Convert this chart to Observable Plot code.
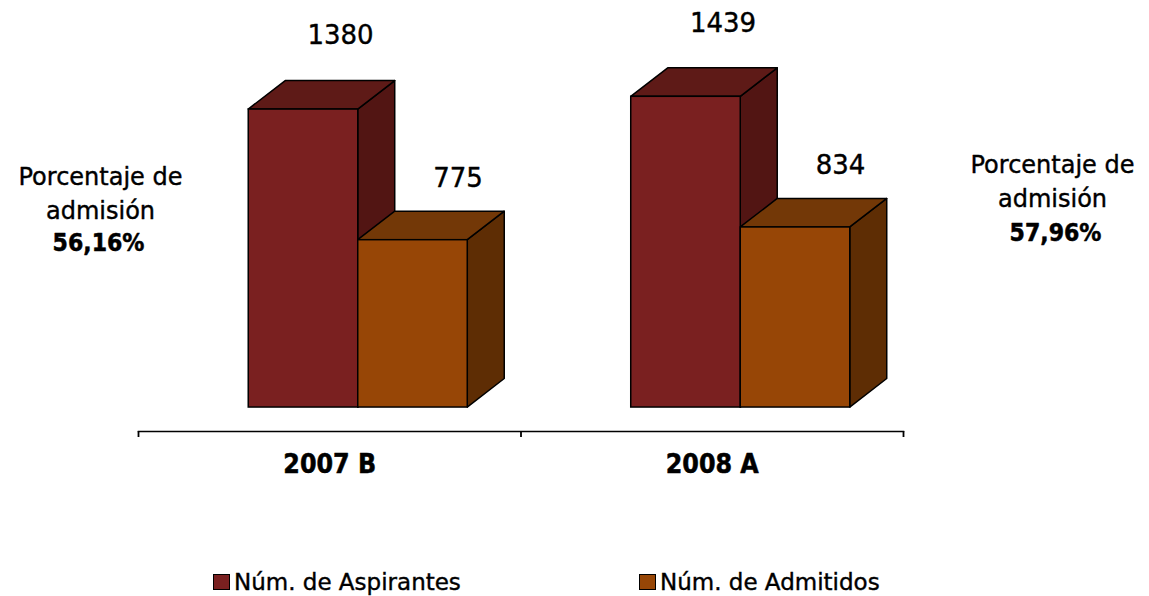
<!DOCTYPE html>
<html>
<head>
<meta charset="utf-8">
<script src="https://cdn.jsdelivr.net/npm/d3@7"></script>
<script src="https://cdn.jsdelivr.net/npm/@observablehq/plot@0.6"></script>
<style>
  html, body { margin: 0; padding: 0; background: #fff; }
  #wrap { position: relative; width: 1149px; height: 596px; overflow: hidden; }
  .leg { position: absolute; top: 569px; display: flex; align-items: center;
         font-family: "DejaVu Sans", sans-serif; font-size: 23px; color: #000;
         -webkit-text-stroke: 0.4px #000; }
  .sw { width: 15px; height: 14px; border: 1.5px solid #000; margin-right: 4px; }
</style>
</head>
<body>
<div id="wrap"></div>
<script>
// ---- data ----
const categories = ["2007 B", "2008 A"];
const aspirantes = [1380, 1439];
const admitidos = [775, 834];
const porcentajes = ["56,16%", "57,96%"];
const seriesNames = ["Núm. de Aspirantes", "Núm. de Admitidos"];

// ---- styling / geometry constants ----
const colors = [
  {front: "#7a2020", top: "#5e1a17", side: "#521513"},
  {front: "#974606", top: "#733807", side: "#5e2d04"}
];
const barW = 0.2863;     // bar width in category units
const shift = 0.0745;    // group offset from category centre
const dX = 0.0967;       // depth in x (category units)
const dY = 132;          // depth in y (value units)
const boldFont = "'DejaVu Sans Condensed', 'DejaVu Sans', sans-serif";
const regFont = "'DejaVu Sans', sans-serif";

const seriesValues = [aspirantes, admitidos];
const bars = [];
seriesValues.forEach((vals, s) => {
  vals.forEach((v, i) => {
    const center = i + 0.5 + shift;
    const L = center + (s - 1) * barW;
    const R = L + barW;
    bars.push({s, i, v, L, R, id: `${s}-${i}`});
  });
});

function sidePts(b) {
  return [
    {id: b.id, x: b.R, y1: 0, y2: b.v},
    {id: b.id, x: b.R + dX, y1: dY, y2: b.v + dY}
  ];
}
function topPts(b) {
  return [
    {id: b.id, x: b.L, y1: b.v, y2: b.v},
    {id: b.id, x: b.L + dX, y1: b.v, y2: b.v + dY},
    {id: b.id, x: b.R, y1: b.v, y2: b.v + dY},
    {id: b.id, x: b.R + dX, y1: b.v + dY, y2: b.v + dY}
  ];
}

const marks = [];
const sw = 1.5;
// sides
[0, 1].forEach(s => {
  marks.push(Plot.area(bars.filter(b => b.s === s).flatMap(sidePts),
    {x1: "x", y1: "y1", y2: "y2", z: "id", fill: colors[s].side, stroke: "#000", strokeWidth: sw, strokeLinejoin: "round"}));
});
// tops
[0, 1].forEach(s => {
  marks.push(Plot.area(bars.filter(b => b.s === s).flatMap(topPts),
    {x1: "x", y1: "y1", y2: "y2", z: "id", fill: colors[s].top, stroke: "#000", strokeWidth: sw, strokeLinejoin: "round"}));
});
// fronts
[0, 1].forEach(s => {
  marks.push(Plot.rect(bars.filter(b => b.s === s),
    {x1: "L", x2: "R", y1: 0, y2: "v", fill: colors[s].front, stroke: "#000", strokeWidth: sw}));
});
// value labels
const textThick = {stroke: "#000", strokeWidth: 0.4};
marks.push(Plot.text(bars.filter(b => b.s === 0), {
  x: b => (b.L + b.R) / 2 + dX, y: b => b.v + dY, text: b => String(b.v),
  dy: -45, fontSize: 26, fontFamily: regFont, fill: "#000", ...textThick
}));
marks.push(Plot.text(bars.filter(b => b.s === 1), {
  x: b => (b.L + b.R) / 2 + dX, y: b => b.v + dY, text: b => String(b.v),
  dx: 8, dy: -33, fontSize: 26, fontFamily: regFont, fill: "#000", ...textThick
}));
// axis
marks.push(Plot.frame({anchor: "bottom", stroke: "#000", strokeWidth: 1.5}));
marks.push(Plot.axisX({ticks: d3.range(categories.length + 1), tickSize: 6, tickFormat: () => "", strokeWidth: 1.8, label: null}));
marks.push(Plot.text(categories, {
  x: (d, i) => i + 0.5, text: d => d, frameAnchor: "bottom", dy: 41,
  fontSize: 26.5, fontWeight: "bold", fontFamily: boldFont, fill: "#000", stroke: "#000", strokeWidth: 0.5
}));
// side annotations
marks.push(Plot.text(["Porcentaje de\nadmisión"], {
  frameAnchor: "left", text: d => d, dx: -38, dy: -25, lineHeight: 1.4,
  fontSize: 24, fontFamily: regFont, fill: "#000", textAnchor: "middle", ...textThick
}));
marks.push(Plot.text([porcentajes[0]], {
  frameAnchor: "left", text: d => d, dx: -40, dy: 27,
  fontSize: 24.5, fontWeight: "bold", fontFamily: boldFont, fill: "#000", textAnchor: "middle", stroke: "#000", strokeWidth: 0.5
}));
marks.push(Plot.text(["Porcentaje de\nadmisión"], {
  frameAnchor: "right", text: d => d, dx: 149, dy: -37, lineHeight: 1.4,
  fontSize: 24, fontFamily: regFont, fill: "#000", textAnchor: "middle", ...textThick
}));
marks.push(Plot.text([porcentajes[1]], {
  frameAnchor: "right", text: d => d, dx: 152, dy: 17,
  fontSize: 24.5, fontWeight: "bold", fontFamily: boldFont, fill: "#000", textAnchor: "middle", stroke: "#000", strokeWidth: 0.5
}));

const chart = Plot.plot({
  width: 1149,
  height: 560,
  marginLeft: 138,
  marginRight: 246,
  marginTop: 0,
  marginBottom: 129,
  x: {domain: [0, categories.length], axis: null},
  y: {domain: [-111, 1885], axis: null},
  style: {background: "#fff", overflow: "visible"},
  marks
});
document.getElementById("wrap").appendChild(chart);

// legend
const legPos = [213, 639];
seriesNames.forEach((name, s) => {
  const item = document.createElement("div");
  item.className = "leg";
  item.style.left = legPos[s] + "px";
  const box = document.createElement("div");
  box.className = "sw";
  box.style.background = colors[s].front;
  const t = document.createElement("span");
  t.textContent = name;
  item.appendChild(box);
  item.appendChild(t);
  document.getElementById("wrap").appendChild(item);
});
</script>
</body>
</html>
